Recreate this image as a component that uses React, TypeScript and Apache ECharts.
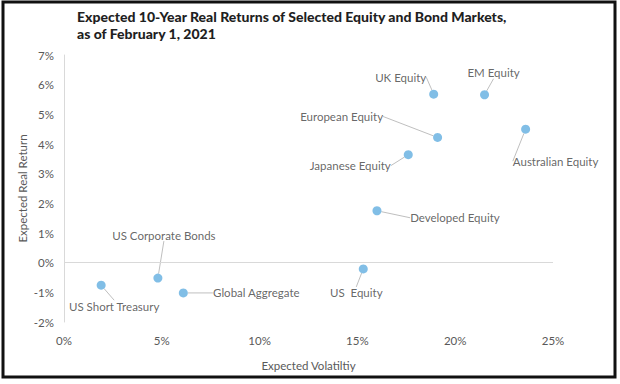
import React, { useEffect, useRef } from "react";
import * as echarts from "echarts";

const names = [
  "UK Equity",
  "EM Equity",
  "European Equity",
  "Australian Equity",
  "Japanese Equity",
  "Developed Equity",
  "US Corporate Bonds",
  "US Short Treasury",
  "Global Aggregate",
  "US  Equity",
];
const volatility = [18.9, 21.5, 19.1, 23.6, 17.6, 16.0, 4.8, 1.9, 6.1, 15.3];
const realReturn = [5.68, 5.66, 4.22, 4.5, 3.64, 1.75, -0.52, -0.76, -1.02, -0.21];

const titleText = "Expected 10-Year Real Returns of Selected Equity and Bond Markets,\nas of February 1, 2021";
const xAxisTitle = "Expected Volatiltiy";
const yAxisTitle = "Expected Real Return";

// label offsets (pixels, from point centre to label centre)
const labelOffsets: [number, number][] = [
  [-33, -17],
  [9, -22],
  [-96, -21],
  [30, 32],
  [-58, 11],
  [78, 7],
  [6, -43],
  [13, 21],
  [73, 0],
  [-7, 24],
];

const FONT = "Lato, 'Open Sans', sans-serif";

export default function App() {
  const ref = useRef<HTMLDivElement>(null);
  useEffect(() => {
    if (!ref.current) return;
    const chart = echarts.init(ref.current, null, { renderer: "svg" });
    const data = names.map((n, i) => ({ name: n, value: [volatility[i], realReturn[i]] }));
    chart.setOption({
      animation: false,
      backgroundColor: "#ffffff",
      title: {
        text: titleText,
        left: 72,
        top: 3,
        textStyle: {
          fontFamily: "Lato, sans-serif",
          fontSize: 14,
          fontWeight: 900,
          color: "#1f1f1f",
          lineHeight: 17,
        },
      },
      graphic: [
        {
          type: "rect",
          shape: { x: 3, y: 2, width: 612, height: 375 },
          style: { fill: "none", stroke: "#111", lineWidth: 3 },
          silent: true,
        },
      ],
      grid: { left: 64, right: 67, top: 55, bottom: 62 },
      xAxis: {
        type: "value",
        min: 0,
        max: 25,
        interval: 5,
        name: xAxisTitle,
        nameLocation: "middle",
        nameGap: 37,
        nameMoveOverlap: false,
        nameTextStyle: { fontFamily: FONT, fontSize: 11.5, color: "#595959" },
        axisLine: { show: false },
        axisTick: { show: false },
        splitLine: { show: false },
        axisLabel: {
          formatter: (v: number) => `${v}%`,
          fontFamily: FONT,
          fontSize: 11.5,
          color: "#595959",
          margin: 12,
        },
      },
      yAxis: {
        type: "value",
        min: -2,
        max: 7,
        interval: 1,
        name: yAxisTitle,
        nameLocation: "middle",
        nameGap: 36,
        nameMoveOverlap: false,
        nameRotate: 90,
        nameTextStyle: { fontFamily: FONT, fontSize: 11.5, color: "#595959" },
        axisLine: { show: true, lineStyle: { color: "#d9d9d9", width: 1 } },
        axisTick: { show: false },
        splitLine: { show: false },
        axisLabel: {
          formatter: (v: number) => `${v}%`,
          fontFamily: FONT,
          fontSize: 11.5,
          color: "#595959",
          margin: 10,
        },
      },
      series: [
        {
          type: "scatter",
          data,
          symbol: "circle",
          symbolSize: 9,
          itemStyle: { color: "#62aee0" },
          label: {
            show: true,
            position: "inside",
            formatter: (p: any) => p.name,
            fontFamily: FONT,
            fontSize: 11.5,
            color: "#404040",
            padding: [2, 4],
          },
          labelLine: {
            show: true,
            lineStyle: { color: "#bfbfbf", width: 1 },
          },
          labelLayout: (p: any) => {
            const o = labelOffsets[p.dataIndex] || [0, 0];
            return { dx: o[0], dy: o[1] };
          },
          markLine: {
            silent: true,
            symbol: "none",
            label: { show: false },
            lineStyle: { color: "#d9d9d9", width: 1, type: "solid" },
            data: [{ yAxis: 0 }],
          },
        },
      ],
    });
    return () => chart.dispose();
  }, []);
  return (
    <div
      ref={ref}
      style={{ position: "fixed", left: 0, top: 0, width: 620, height: 384 }}
    />
  );
}
